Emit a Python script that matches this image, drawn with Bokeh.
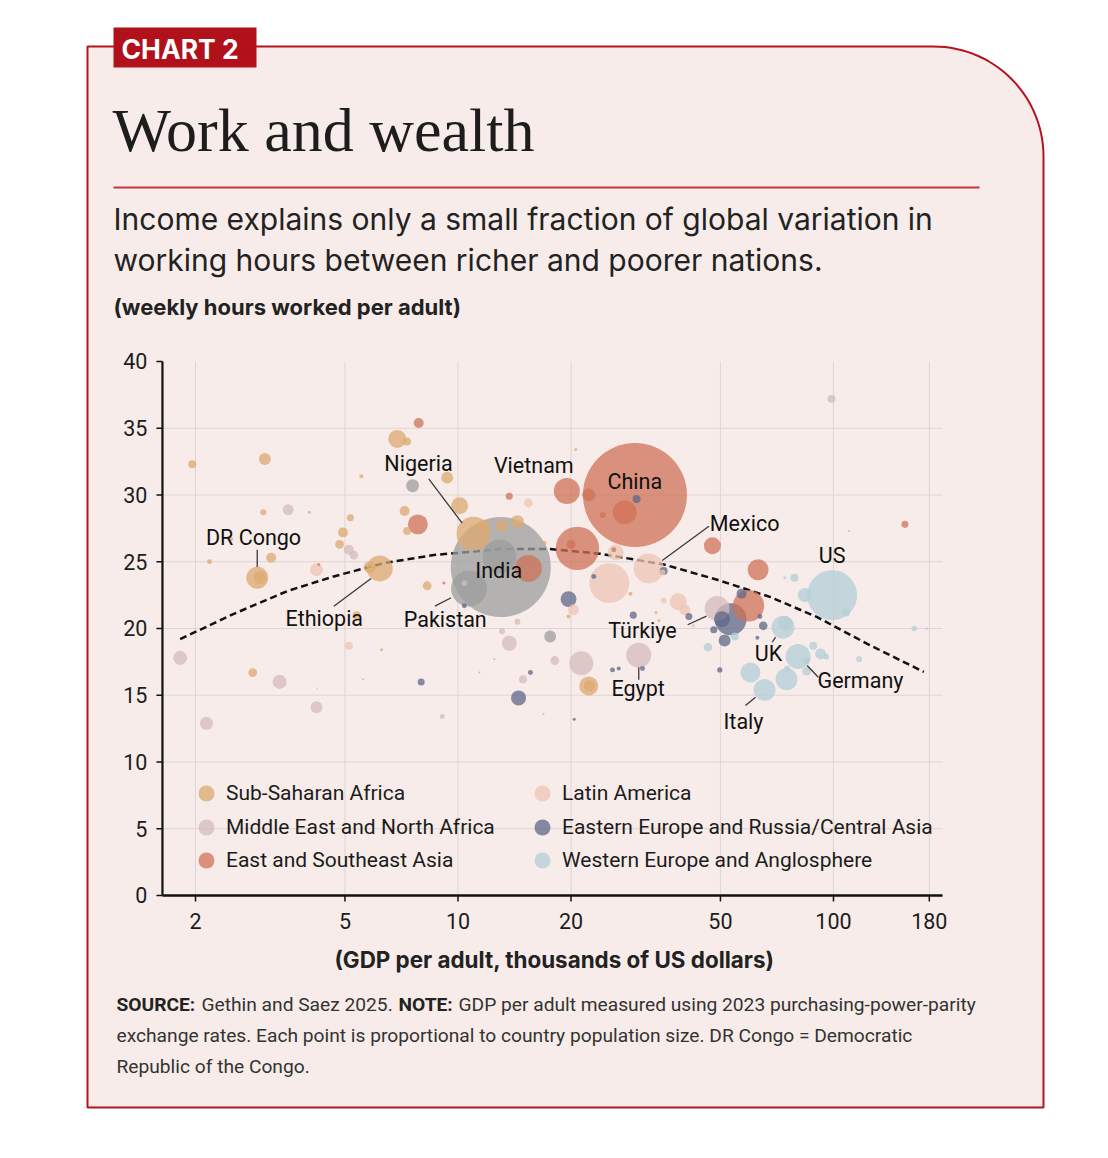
import math
from bokeh.plotting import figure
from bokeh.models import Range1d, LinearScale, Legend, LegendItem, ColumnDataSource
from bokeh.core.properties import value
from bokeh.embed import file_html
from bokeh.resources import INLINE

# ---------------- data (GDP per adult k$, weekly hours, population millions) ----------------
ssa_gdp = [1.96, 3.06, 3.03, 4.02, 5.17, 5.53, 4.94, 4.84, 3.18, 2.92, 2.97, 2.18, 2.49, 6.19, 5.82,
           5.37, 6.26, 5.59, 2.84, 8.28, 6.89, 7.32, 9.36, 10.1, 7.21, 7.32, 11.0, 11.7, 13.1, 14.4,
           12.5, 11.4, 20.6, 22.3, 22.4, 17.0, 19.7, 28.8, 33.7, 34.3, 110, 16.9]
ssa_hours = [32.3, 32.7, 28.7, 28.7, 28.3, 31.4, 27.2, 26.3, 25.3, 23.8, 23.8, 25.0, 26.7, 24.5, 24.6,
             21.0, 18.4, 16.2, 16.7, 23.2, 34.2, 34.0, 31.3, 29.2, 28.8, 27.3, 27.1, 27.7, 27.7, 28.0,
             17.7, 16.7, 33.4, 15.7, 15.7, 26.4, 20.9, 22.6, 21.2, 20.6, 27.3, 13.6]
ssa_pop = [9, 20, 5, 1.3, 7, 2.3, 14, 11, 14, 68, 24, 3.5, 2.3, 96, 20,
           9, 1.3, 0.6, 11, 11, 46, 9, 20, 41, 14, 9, 163, 20, 20, 24,
           0.6, 0.6, 1.3, 51, 18, 2.3, 2.3, 2.3, 1.3, 1.3, 0.6, 0.6]

mena_gdp = [3.53, 5.12, 5.28, 3.35, 4.20, 2.14, 1.82, 9.08, 13.7, 18.1, 14.9, 13.1, 14.4, 21.3, 30.3,
            49.0, 98.8, 10.4]
mena_hours = [28.9, 25.9, 25.5, 16.0, 14.1, 12.9, 17.8, 13.4, 18.9, 17.6, 16.2, 19.8, 20.5, 17.4, 18.0,
              21.5, 37.2, 23.4]
mena_pop = [17, 14, 11, 28, 20, 24, 28, 3.5, 32, 11, 9, 5, 5, 81, 88, 88, 9, 5]

eas_gdp = [7.86, 7.82, 9.17, 4.26, 13.7, 19.5, 22.3, 29.6, 27.8, 24.3, 20.8, 20.0, 15.4, 26.0, 47.6,
           63.0, 59.4, 155]
eas_hours = [35.4, 27.8, 23.4, 24.8, 29.9, 30.3, 30.0, 30.0, 28.7, 28.5, 26.0, 26.3, 24.5, 25.9, 26.2,
             24.4, 21.7, 27.8]
eas_pop = [14, 56, 1.3, 1.3, 7, 96, 24, 1529, 81, 5, 266, 11, 103, 3.5, 41, 62, 139, 7]

lat_gdp = [4.20, 5.12, 4.22, 15.4, 26.3, 25.3, 32.2, 20.3, 38.6, 40.2, 35.3, 42.3, 35.0]
lat_hours = [24.4, 18.7, 15.5, 29.4, 25.7, 23.4, 24.5, 21.4, 22.0, 21.4, 22.1, 20.2, 24.2]
lat_pop = [24, 9, 0.6, 11, 36, 226, 127, 17, 41, 17, 5, 2.3, 5]

eeu_gdp = [7.98, 10.4, 29.9, 23.0, 35.3, 19.7, 29.3, 15.6, 14.5, 20.4, 31.0, 25.8, 26.8, 56.9, 53.2,
           50.5, 41.2, 63.7, 65.0, 48.0, 51.3, 62.7, 49.8]
eeu_hours = [16.0, 21.7, 29.7, 23.9, 24.3, 22.2, 21.0, 16.7, 14.8, 13.2, 17.0, 16.9, 17.0, 22.6, 20.7,
             20.7, 20.9, 20.9, 20.2, 19.9, 19.1, 19.3, 16.9]
eeu_pop = [7, 3.5, 9, 3.5, 9, 36, 7, 3.5, 32, 1.3, 3.5, 3.5, 2.3, 14, 145, 36, 7, 3.5, 10.5, 7, 20, 2.3, 4]

weu_gdp = [78.7, 99.2, 83.9, 108, 164, 177, 73.4, 74.5, 54.6, 46.3, 60.1, 65.5, 75.0, 80.5, 84.8,
           84.8, 88.3, 92.4, 95.6, 117, 75.3, 74.2]
weu_hours = [23.8, 22.5, 22.5, 21.2, 20.0, 20.0, 20.1, 20.4, 19.4, 18.6, 16.7, 15.4, 16.2, 17.9, 17.6,
             16.8, 18.7, 18.1, 17.9, 17.7, 17.0, 23.8]
weu_pop = [9, 353, 28, 9, 4, 1, 75, 28, 9, 10.5, 56, 68, 68, 88, 7, 10.5, 9, 17, 5, 5, 5, 1.3]

sas_gdp = [7.57, 13.0, 12.9, 10.7, 17.6]
sas_hours = [30.7, 24.6, 25.4, 23.0, 19.4]
sas_pop = [24, 1413, 163, 183, 20]

region_labels = ["Sub-Saharan Africa", "Middle East and North Africa", "East and Southeast Asia",
                 "Latin America", "Eastern Europe and Russia/Central Asia",
                 "Western Europe and Anglosphere", "South Asia"]

# trend curve
trend_gdp = [1.82, 2.53, 3.51, 4.67, 6.35, 8.62, 13.0, 17.6, 23.9, 35.3, 49.0, 68.0, 90.5, 123, 174]
trend_hours = [19.2, 21.1, 22.8, 23.9, 24.9, 25.5, 25.95, 25.95, 25.6, 24.8, 23.65, 22.35, 20.85, 18.85, 16.75]

# country labels
label_names = ["DR Congo", "Ethiopia", "Nigeria", "Pakistan", "India", "Vietnam", "China", "Mexico",
               "US", "Türkiye", "UK", "Germany", "Egypt", "Italy"]
label_gdp = [2.855, 4.405, 7.85, 9.25, 12.84, 15.92, 29.58, 58.0, 99.2, 31.0, 67.1, 118, 30.2, 57.6]
label_hours = [26.78, 20.72, 32.36, 20.64, 24.32, 32.2, 31.0, 27.9, 25.49, 19.85, 18.16, 16.1, 15.48, 13.02]

# leader lines
lead_x0 = [2.92, 4.67, 8.36, 8.68, 46.6, 40.9, 68.7, 91.1, 30.3, 58.3]
lead_y0 = [25.9, 21.67, 31.21, 21.67, 27.66, 20.28, 18.97, 16.35, 16.16, 14.23]
lead_x1 = [2.92, 5.87, 10.26, 9.59, 35.0, 45.9, 70.1, 85.1, 30.3, 62.0]
lead_y1 = [24.6, 23.75, 27.89, 22.3, 25.09, 20.92, 19.35, 17.23, 17.1, 14.85]

# axes
x_ticks = [2, 5, 10, 20, 50, 100, 180]
x_tick_labels = ["2", "5", "10", "20", "50", "100", "180"]
y_ticks = [0, 5, 10, 15, 20, 25, 30, 35, 40]
y_tick_labels = [str(t) for t in y_ticks]
x_axis_min, x_axis_max = 1.633, 195.2
y_axis_min, y_axis_max = 0, 40

# ---------------- styles ----------------
colors = ["#DCAA70", "#D4BBBB", "#CF7157", "#EEC6B4", "#5E6788", "#B3CFD6", "#9E9E9E"]
COND = "Roboto"
SANS = "Inter"
SERIF = "Liberation Serif"
CARD = "#F7ECE9"
RED = "#B3151E"
INK = "#1c1c1c"
SIZE_K = 2.66

W, H = 1092, 1140
# data ranges chosen so that the plot area lands where the chart's axes are
X_LO, X_HI = 0.6049, 489.6
Y_LO, Y_HI = -18.352, 67.04

# ---------------- combine points, big ones first ----------------
groups = [(ssa_gdp, ssa_hours, ssa_pop), (mena_gdp, mena_hours, mena_pop), (eas_gdp, eas_hours, eas_pop),
          (lat_gdp, lat_hours, lat_pop), (eeu_gdp, eeu_hours, eeu_pop), (weu_gdp, weu_hours, weu_pop),
          (sas_gdp, sas_hours, sas_pop)]
rows = []
for gi, (gx, gy, gp) in enumerate(groups):
    for a, b, c in zip(gx, gy, gp):
        rows.append((a, b, c, gi))
rows.sort(key=lambda r: -r[2])
src = ColumnDataSource(dict(
    gdp=[r[0] for r in rows],
    hours=[r[1] for r in rows],
    size=[SIZE_K * math.sqrt(r[2]) for r in rows],
    color=[colors[r[3]] for r in rows],
    region=[region_labels[r[3]] for r in rows],
))
first_index = {}
for i, r in enumerate(rows):
    first_index.setdefault(r[3], i)

# ---------------- figure ----------------
p = figure(width=W, height=H, x_axis_type="log", x_range=Range1d(X_LO, X_HI), y_range=Range1d(Y_LO, Y_HI),
           x_axis_location=None, y_axis_location=None, title=None,
           output_backend="svg", toolbar_location=None, min_border=0)
p.extra_x_ranges = {"px": Range1d(0, W)}
p.extra_y_ranges = {"py": Range1d(H, 0)}
p.extra_x_scales = {"px": LinearScale()}
p.extra_y_scales = {"py": LinearScale()}
p.background_fill_color = "white"
p.border_fill_color = "white"
p.outline_line_color = None
p.xgrid.visible = False
p.ygrid.visible = False

PG = dict(x_range_name="px", y_range_name="py")

# card with rounded top-right corner
cx, cy, rad = 933, 156, 110
card_x = [87, 87]
card_y = [1107, 46]
for k in range(0, 31):
    t = math.radians(90 * k / 30)
    card_x.append(cx + rad * math.sin(t))
    card_y.append(cy - rad * math.cos(t))
card_x.append(1043)
card_y.append(1107)
p.patch(card_x, card_y, fill_color=CARD, line_color=RED, line_width=2, **PG)
# tab and rule
p.quad(left=[113], right=[256], top=[27], bottom=[67], fill_color="#B0111A", line_color=None, **PG)
p.segment(x0=[113], y0=[187], x1=[979], y1=[187], line_color="#C8363C", line_width=2, **PG)

# grid
n = len(x_ticks)
p.segment(x0=x_ticks, y0=[y_axis_min] * n, x1=x_ticks, y1=[y_axis_max] * n, line_color="#DDD6D5", line_width=1)
gy = y_ticks[1:-1]
p.segment(x0=[x_axis_min] * len(gy), y0=gy, x1=[x_axis_max] * len(gy), y1=gy, line_color="#DDD6D5", line_width=1)

# trend
p.line(trend_gdp, trend_hours, line_color="#111111", line_width=2.5, line_dash="7 4")

# bubbles
pts = p.scatter("gdp", "hours", size="size", fill_color="color", fill_alpha=0.75, line_color=None, source=src)

# leader lines + labels
p.segment(lead_x0, lead_y0, lead_x1, lead_y1, line_color="#3a3a3a", line_width=1.3)
p.text(label_gdp, label_hours, text=label_names, text_font=value(COND), text_font_size="21.5px",
       text_align="center", text_baseline="middle", text_color="#111111")

# axes: lines, ticks and tick labels
p.segment(x0=[x_axis_min], y0=[y_axis_min], x1=[x_axis_min], y1=[y_axis_max], line_color="#111111", line_width=2.2)
p.segment(x0=[x_axis_min], y0=[y_axis_min], x1=[x_axis_max], y1=[y_axis_min], line_color="#111111", line_width=2.5)
p.ray(x=[x_axis_min] * len(y_ticks), y=y_ticks, length=6, length_units="screen", angle=math.pi,
      line_color="#111111", line_width=1.5)
p.ray(x=x_ticks, y=[y_axis_min] * n, length=6, length_units="screen", angle=-math.pi / 2,
      line_color="#111111", line_width=1.5)
p.text(x=[x_axis_min] * len(y_ticks), y=y_ticks, text=y_tick_labels, x_offset=-15,
       text_font=value(COND), text_font_size="21.5px", text_align="right", text_baseline="middle", text_color=INK)
p.text(x=x_ticks, y=[y_axis_min] * n, text=x_tick_labels, y_offset=26,
       text_font=value(COND), text_font_size="21.5px", text_align="center", text_baseline="middle", text_color=INK)

# legend: one entry per slot, two columns of three
legend_slots = [(0, 206, 793.3), (1, 206, 826.5), (2, 206, 859.5),
                (3, 542, 793.3), (4, 542, 826.5), (5, 542, 859.5)]
for ri, lx, ly in legend_slots:
    lg = Legend(items=[LegendItem(label=region_labels[ri], renderers=[pts], index=first_index[ri])],
                location=(lx - 20, H - (ly + 20)))
    lg.glyph_width = 40
    lg.glyph_height = 40
    lg.label_standoff = 0
    lg.padding = 0
    lg.margin = 0
    lg.background_fill_alpha = 0
    lg.border_line_color = None
    lg.label_text_font = COND
    lg.label_text_font_size = "21px"
    lg.label_text_color = INK
    p.add_layout(lg)


def ptext(x, y, s, font, size, style="normal", color="#1f1f1f", align="left"):
    p.text(x=[x], y=[y], text=[s], text_font=value(font), text_font_size=size, text_font_style=style,
           text_color=color, text_align=align, text_baseline="middle", **PG)


ptext(121, 48, "CHART 2", SANS, "26.5px", "bold", "white")
ptext(112, 129, "Work and wealth", SERIF, "62px", "normal", "#1d1d1d")
ptext(113, 218, "Income explains only a small fraction of global variation in", SANS, "30px", "normal", "#222222")
ptext(113, 259, "working hours between richer and poorer nations.", SANS, "30px", "normal", "#222222")
ptext(113, 306, "(weekly hours worked per adult)", SANS, "22px", "bold", "#222222")
ptext(554, 959, "(GDP per adult, thousands of US dollars)", SANS, "22.4px", "bold", "#222222", align="center")

FS = "19.2px"
ptext(116, 1003.5, "SOURCE:", COND, FS, "bold", "#222222")
ptext(201, 1003.5, "Gethin and Saez 2025.", COND, FS, "normal", "#333333")
ptext(398, 1003.5, "NOTE:", COND, FS, "bold", "#222222")
ptext(458, 1003.5, "GDP per adult measured using 2023 purchasing-power-parity", COND, FS, "normal", "#333333")
ptext(116, 1034.5, "exchange rates. Each point is proportional to country population size. DR Congo = Democratic",
      COND, FS, "normal", "#333333")
ptext(116, 1065.5, "Republic of the Congo.", COND, FS, "normal", "#333333")

open("out.html", "w").write(file_html(p, INLINE))
